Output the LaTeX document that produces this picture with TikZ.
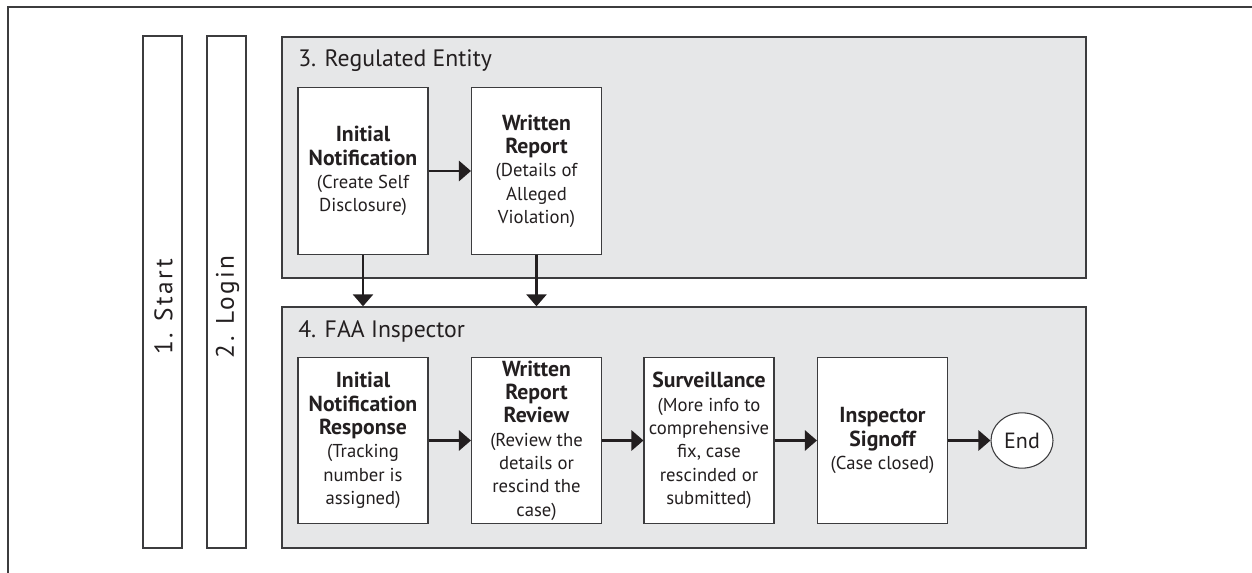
\documentclass[tikz,border=0pt]{standalone}
\usepackage{fontspec}
\setmainfont{PT Sans}
\usetikzlibrary{arrows.meta,shapes.geometric}

\definecolor{lanefill}{RGB}{230,231,232}
\definecolor{edgegray}{RGB}{60,60,62}
\definecolor{inkgray}{RGB}{35,31,32}

\tikzset{
  lanebox/.style={draw=edgegray, line width=1pt, fill=lanefill, inner sep=0pt, minimum width=603pt, minimum height=180.75pt},
  barbox/.style={draw=edgegray, line width=0.9pt, fill=white, inner sep=0pt, minimum width=29.25pt, minimum height=384pt},
  stepbox/.style={draw=edgegray, line width=0.8pt, fill=white, inner sep=0pt, minimum width=97.5pt, minimum height=125pt, align=center, text=inkgray, font=\fontsize{14}{17.5}\selectfont},
  endnode/.style={ellipse, draw=edgegray, line width=0.8pt, fill=white, inner sep=0pt, minimum width=46.5pt, minimum height=41.5pt, text=inkgray, font=\fontsize{16.5}{20}\selectfont},
  lanetitle/.style={anchor=base west, inner sep=0pt, text=inkgray, font=\fontsize{17.8}{21}\selectfont},
  bartitle/.style={rotate=90, inner sep=0pt, text=inkgray, font=\fontsize{19}{22}\selectfont\addfontfeature{LetterSpace=9}},
  flow/.style={draw=inkgray, line width=2pt, -{Triangle[length=9pt,width=15pt]}},
}
\newcommand{\hd}[1]{{\fontsize{16.3}{17.5}\selectfont\bfseries #1}}

\begin{document}
\begin{tikzpicture}[x=0.75pt,y=0.75pt,yscale=-1,xscale=1]
\useasboundingbox (0,0) rectangle (1252,573);

%Shape: outer frame
\draw [draw=edgegray, line width=1.1pt] (1260,7) -- (8,7) -- (8,580) ;

%Shape: start and login bars
\node [barbox] (start) at (162.5,292) {};
\node [barbox] (login) at (226.5,292) {};
% Text Node
\node [bartitle] (starttext) at (163.5,307) {1. Start};
% Text Node
\node [bartitle] (logintext) at (227.5,307) {2. Login};

%Shape: lanes
\node [lanebox] (reg) at (684,157.5) {};
\node [lanebox] (faa) at (684,427.5) {};
% Text Node
\node [lanetitle] (regtitle) at (298,67) {3. Regulated Entity};
% Text Node
\node [lanetitle] (faatitle) at (298,338) {4. FAA Inspector};

%Shape: regulated entity steps
\node [stepbox] (notif) at (363,171) {\hd{Initial}\\\hd{Notification}\\(Create Self\\Disclosure)};
\node [stepbox] (report) at (536.5,171) {\hd{Written}\\\hd{Report}\\(Details of\\Alleged\\Violation)};

%Shape: inspector steps
\node [stepbox] (resp) at (363,440.5) {\hd{Initial}\\\hd{Notification}\\\hd{Response}\\(Tracking\\number is\\assigned)};
\node [stepbox] (review) at (536.5,440.5) {\hd{Written}\\\hd{Report}\\\hd{Review}\\(Review the\\details or\\rescind the\\case)};
\node [stepbox] (surv) at (709,440.5) {\hd{Surveillance}\\(More info to\\comprehensive\\fix, case\\rescinded or\\submitted)};
\node [stepbox] (signoff) at (882.5,440.5) {\hd{Inspector}\\\hd{Signoff}\\(Case closed)};
\node [endnode] (end) at (1022,440.5) {End};

% Arrows
\draw [flow] (notif) -- (report);
\draw [flow] (notif.south) -- (notif.south |- faa.north);
\draw [flow] (report.south) -- (report.south |- faa.north);
\draw [flow] (resp) -- (review);
\draw [flow] (review) -- (surv);
\draw [flow] (surv) -- (signoff);
\draw [flow] (signoff) -- (end);

\end{tikzpicture}
\end{document}
